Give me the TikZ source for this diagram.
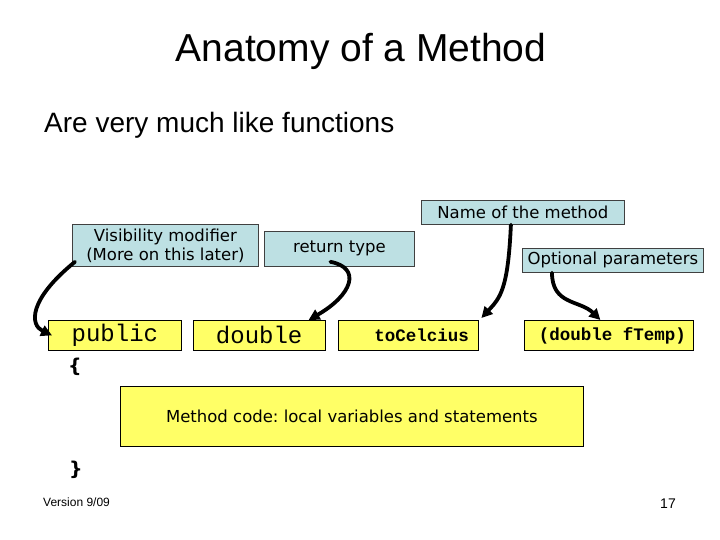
\documentclass[tikz,border=0pt]{standalone}
\usepackage{fontspec}
\setmainfont{Liberation Sans}
\newfontfamily\comicfont{DejaVu Sans}
\newfontfamily\codefont{Liberation Mono}
\usepackage{xcolor}
\definecolor{SoftCyan}{HTML}{BDE0E3}
\definecolor{Lemon}{HTML}{FFFF66}
\definecolor{Frame}{HTML}{404040}
\usepackage{tikz}
\usetikzlibrary{arrows.meta,positioning}
\newcommand\monospaced{\spaceskip=0.6em\relax}
\frenchspacing

\begin{document}
\begin{tikzpicture}[x=1pt,y=-1pt,
  box/.style={draw=Frame,line width=0.8pt,inner sep=0pt,align=center,font=\comicfont\fontsize{16.5}{19}\selectfont},
  bluebox/.style={box,fill=SoftCyan},
  yellowbox/.style={box,draw=black,fill=Lemon,minimum height=30pt},
  codebox/.style={yellowbox,font=\codefont\bfseries\fontsize{17.5}{20}\selectfont},
  bigcode/.style={codebox,font=\codefont\fontsize{24}{26}\selectfont},
  brace/.style={font=\comicfont\bfseries\fontsize{19}{21}\selectfont},
  arrow/.style={-{Triangle[length=11pt,width=11pt]},line width=3.8pt,line cap=round}
]
  \useasboundingbox (0,0) rectangle (720,540);

  \node[font=\fontsize{39}{44}\selectfont,anchor=base] (title) at (361,62) {Anatomy of a Method};
  \node[font=\fontsize{28}{32}\selectfont,anchor=base west,inner sep=0pt] (intro) at (44,133) {Are very much like functions};

  % labels
  \node[bluebox,minimum width=186pt,minimum height=42pt,anchor=north west] (vis) at (72,224) {Visibility modifier\\(More on this later)};
  \node[bluebox,minimum width=150pt,minimum height=35pt,anchor=north west] (ret) at (264,231) {return type};
  \node[bluebox,minimum width=203pt,minimum height=24pt,anchor=north west] (name) at (421,200) {Name of the method};
  \node[bluebox,minimum width=181pt,minimum height=24pt,anchor=north west] (opt) at (522,248) {Optional parameters};

  % method header
  \node[bigcode,minimum width=133pt,anchor=north west] (pub) at (48,320) {public};
  \node[bigcode,minimum width=132pt,right=11pt of pub] (dbl) {double};
  \node[codebox,text width=122pt,align=right,inner xsep=9pt,minimum width=140pt,right=12pt of dbl] (cel) {toCelcius};
  \node[codebox,text width=153pt,align=right,inner xsep=8pt,minimum width=169pt,right=46pt of cel] (par) {\monospaced(double fTemp)};

  \node[brace] (open) at (75,367) {\{};
  \node[yellowbox,minimum width=463pt,minimum height=60pt,anchor=north west] (body) at (120,386) {Method code: local variables and statements};
  \node[brace] (close) at (76,470) {\}};

  \node[font=\fontsize{12}{14}\selectfont,anchor=west,inner sep=0pt] (ver) at (43,502) {Version 9/09};
  \node[font=\fontsize{14}{16}\selectfont] (num) at (668,504) {17};

  \draw[arrow] ([xshift=3pt,yshift=5pt]vis.south west) .. controls (28,300) and (30,325) .. ([xshift=4pt]pub.west);
  \draw[arrow] ([xshift=-9pt,yshift=5pt]ret.south) .. controls (362,268) and (352,295) .. ([xshift=-17pt]dbl.north east);
  \draw[arrow] ([xshift=-12pt]name.south) .. controls (508,290) and (500,298) .. ([xshift=3pt,yshift=2pt]cel.north east);
  \draw[arrow] ([xshift=30pt]opt.south west) .. controls (552,305) and (580,300) .. ([xshift=76pt]par.north west);
\end{tikzpicture}
\end{document}
